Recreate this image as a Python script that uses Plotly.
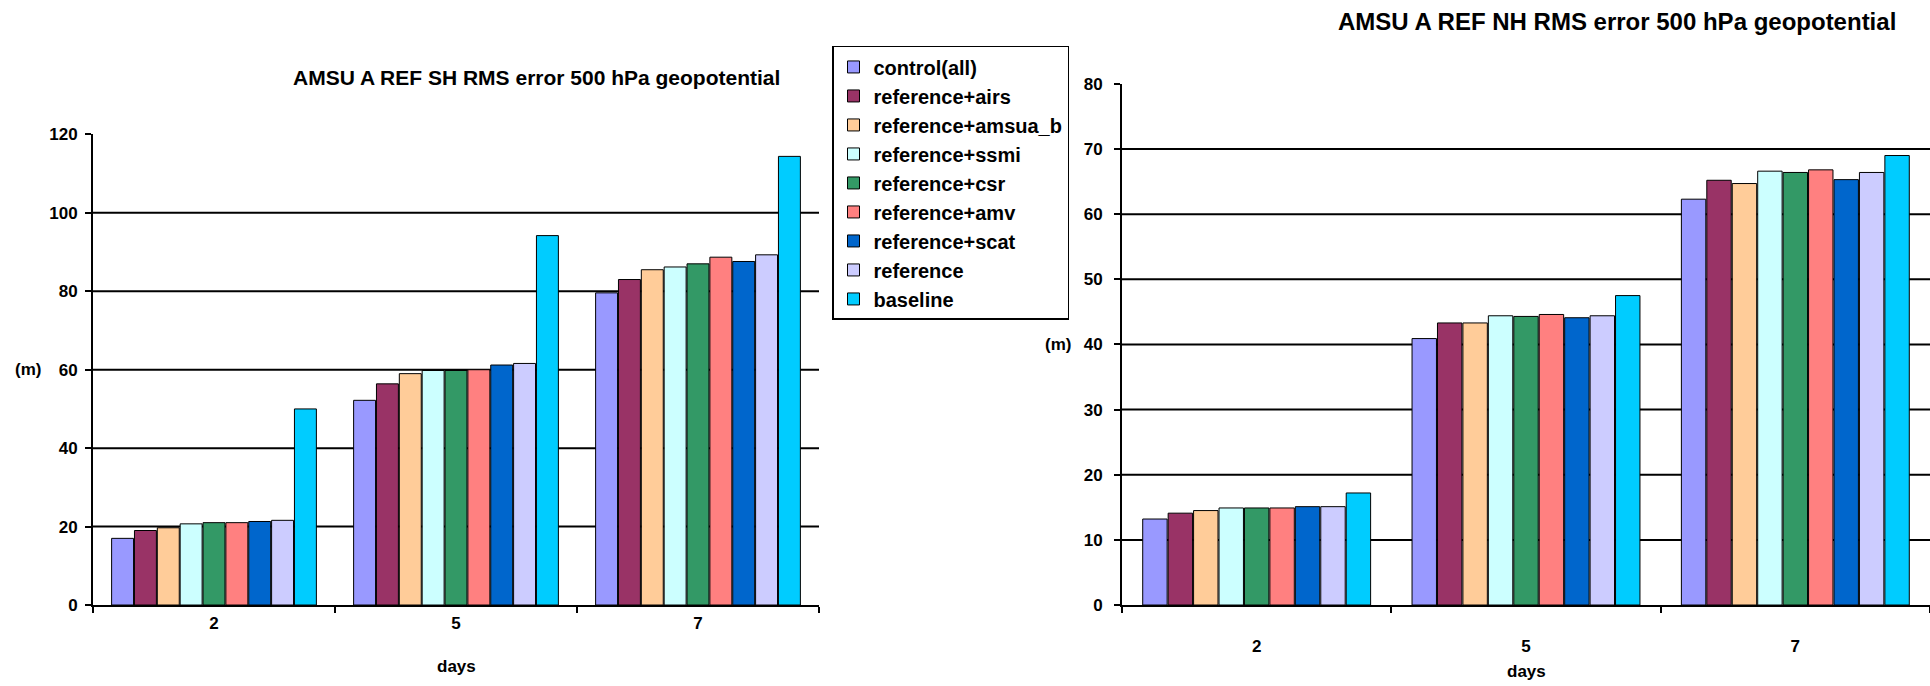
import plotly.graph_objects as go

# ---------------- data ----------------
days = ["2", "5", "7"]
series_names = [
    "control(all)", "reference+airs", "reference+amsua_b", "reference+ssmi",
    "reference+csr", "reference+amv", "reference+scat", "reference", "baseline",
]
series_colors = [
    "#9999FF", "#993366", "#FFCC99", "#CCFFFF",
    "#339966", "#FF8080", "#0066CC", "#CCCCFF", "#00CCFF",
]

# Southern hemisphere RMS error (m), per series, for days 2, 5, 7
sh_control = [17.0, 52.2, 79.6]
sh_airs = [19.0, 56.4, 83.0]
sh_amsua_b = [19.7, 59.0, 85.5]
sh_ssmi = [20.7, 59.8, 86.2]
sh_csr = [21.0, 59.8, 87.0]
sh_amv = [21.0, 60.0, 88.7]
sh_scat = [21.3, 61.2, 87.6]
sh_reference = [21.6, 61.6, 89.3]
sh_baseline = [50.0, 94.2, 114.4]

# Northern hemisphere RMS error (m)
nh_control = [13.2, 40.9, 62.3]
nh_airs = [14.1, 43.3, 65.2]
nh_amsua_b = [14.5, 43.3, 64.7]
nh_ssmi = [14.9, 44.4, 66.6]
nh_csr = [14.9, 44.3, 66.4]
nh_amv = [14.9, 44.6, 66.8]
nh_scat = [15.1, 44.1, 65.3]
nh_reference = [15.1, 44.4, 66.4]
nh_baseline = [17.2, 47.5, 69.0]

sh_values = [sh_control, sh_airs, sh_amsua_b, sh_ssmi, sh_csr, sh_amv, sh_scat, sh_reference, sh_baseline]
nh_values = [nh_control, nh_airs, nh_amsua_b, nh_ssmi, nh_csr, nh_amv, nh_scat, nh_reference, nh_baseline]

sh_ticks = [0, 20, 40, 60, 80, 100, 120]
nh_ticks = [0, 10, 20, 30, 40, 50, 60, 70, 80]

title_sh = "AMSU A REF SH RMS error 500 hPa geopotential"
title_nh = "AMSU A REF NH RMS error 500 hPa geopotential"
xlabel = "days"
ylabel = "(m)"

# ---------------- figure ----------------
W, H = 1930, 686
FONT = "Liberation Sans, Arial, sans-serif"

def px_x(v):
    return v / W

def px_y(v):
    return 1 - v / H

fig = go.Figure()

for name, color, vals in zip(series_names, series_colors, sh_values):
    fig.add_trace(go.Bar(
        x=days, y=vals, name=name, legendgroup=name,
        marker=dict(color=color, line=dict(color="black", width=1)),
        xaxis="x", yaxis="y",
    ))
for name, color, vals in zip(series_names, series_colors, nh_values):
    fig.add_trace(go.Bar(
        x=days, y=vals, name=name, legendgroup=name, showlegend=False,
        marker=dict(color=color, line=dict(color="black", width=1)),
        xaxis="x2", yaxis="y2",
    ))

def axis_common():
    return dict(
        showline=True, linecolor="black", linewidth=2,
        ticks="outside", ticklen=6, tickwidth=2, tickcolor="black",
        tickfont=dict(family=FONT, size=17, color="black", weight="bold"),
        showgrid=False, zeroline=False,
    )

fig.update_layout(
    width=W, height=H,
    margin=dict(l=0, r=0, t=0, b=0),
    paper_bgcolor="white", plot_bgcolor="white",
    barmode="group", bargap=0.15, bargroupgap=0.04,
    font=dict(family=FONT, color="black"),
    xaxis=dict(domain=[px_x(93), px_x(819)], anchor="y", type="category",
               tickson="boundaries", ticklabelstandoff=2, **axis_common()),
    yaxis=dict(domain=[px_y(613), px_y(129)], anchor="x", range=[0, 120],
               tickvals=sh_ticks, ticklabelstandoff=4, **axis_common()),
    xaxis2=dict(domain=[px_x(1122), 1.0], anchor="y2", type="category",
                tickson="boundaries", ticklabelstandoff=25, **axis_common()),
    yaxis2=dict(domain=[px_y(613), px_y(77)], anchor="x2", range=[0, 80],
                tickvals=nh_ticks, ticklabelstandoff=8, **axis_common()),
    legend=dict(
        x=px_x(832), y=px_y(38), xanchor="left", yanchor="top",
        bordercolor="black", borderwidth=1.5, bgcolor="white",
        font=dict(family=FONT, size=20, color="black", weight="bold"),
        tracegroupgap=0, itemwidth=30,
    ),
    showlegend=True,
)

# horizontal gridlines (interior major ticks only)
shapes = []
for v in sh_ticks[1:-1]:
    shapes.append(dict(type="line", xref="x domain", yref="y", x0=0, x1=1, y0=v, y1=v,
                       line=dict(color="black", width=2), layer="below"))
for v in nh_ticks[1:-1]:
    shapes.append(dict(type="line", xref="x2 domain", yref="y2", x0=0, x1=1, y0=v, y1=v,
                       line=dict(color="black", width=2), layer="below"))
fig.update_layout(shapes=shapes)

def label(text, x, xref, y, yref, size):
    return dict(text=text, x=x, xref=xref, y=y, yref=yref, showarrow=False,
                xanchor="center", yanchor="middle",
                font=dict(family=FONT, size=size, weight="bold", color="black"))

ann = [
    label(title_sh, px_x(536), "paper", px_y(70), "paper", 21),
    label(title_nh, px_x(1617), "paper", px_y(13), "paper", 24),
    label(xlabel, 0.5, "x domain", px_y(676), "paper", 17),
    label(xlabel, 0.5, "x2 domain", px_y(681), "paper", 17),
    label(ylabel, px_x(28), "paper", 60, "y", 17),
    label(ylabel, px_x(1058), "paper", 40, "y2", 17),
]
fig.update_layout(annotations=ann)

fig.write_html(
    "out.html",
    config={"displayModeBar": False},
    post_script="document.body.style.margin='0';document.body.style.overflow='hidden';",
)
